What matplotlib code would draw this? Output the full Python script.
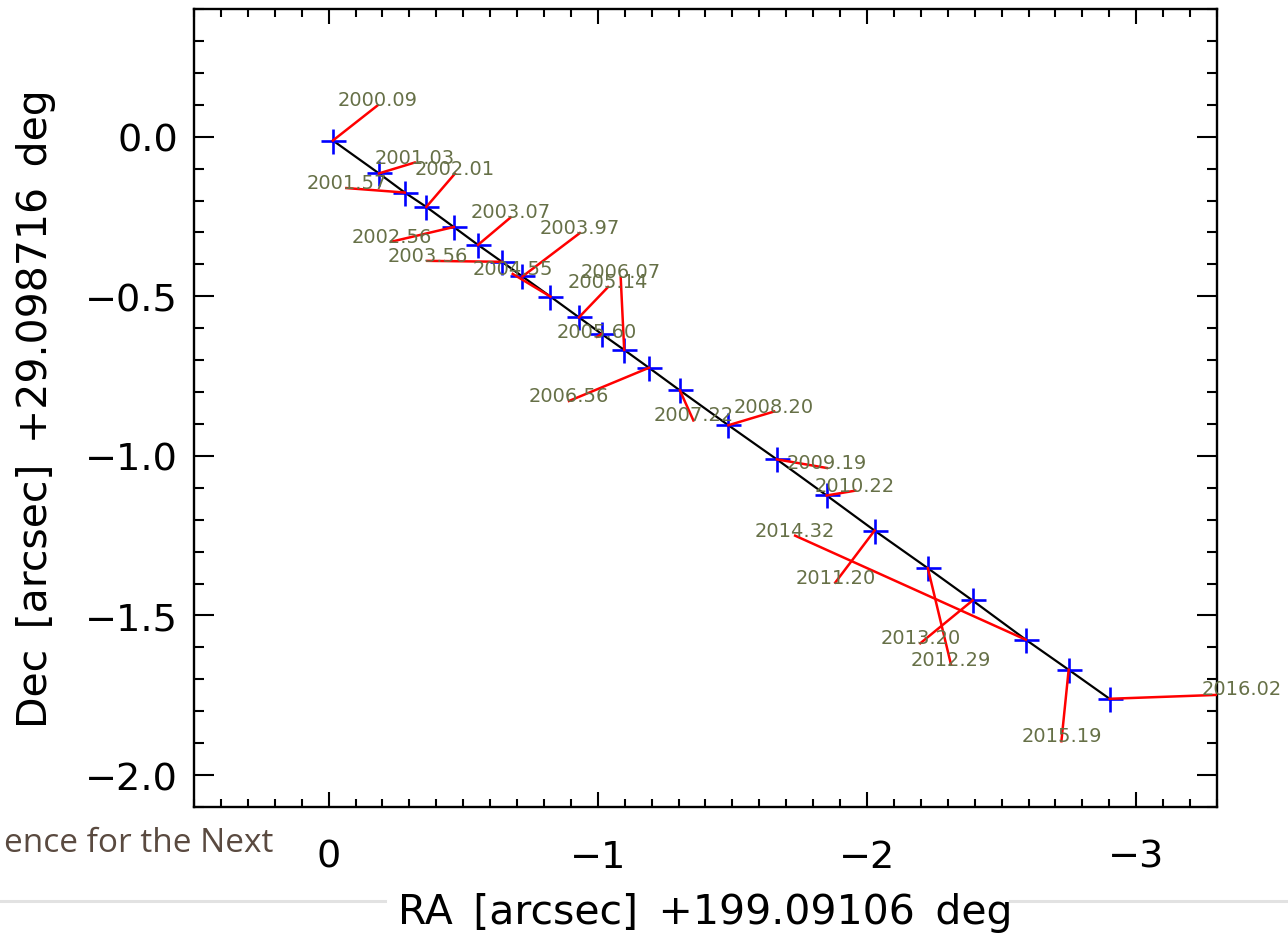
import numpy as np
import matplotlib.pyplot as plt
from matplotlib.lines import Line2D

# epochs and positions (arcsec offsets)
epochs = ["2000.09", "2001.03", "2001.57", "2002.01", "2002.56", "2003.07",
          "2003.56", "2003.97", "2004.55", "2005.14", "2005.60", "2006.07",
          "2006.56", "2007.22", "2008.20", "2009.19", "2010.22", "2011.20",
          "2012.29", "2013.20", "2014.32", "2015.19", "2016.02"]

# model positions (blue crosses)
ra_model = [-0.016, -0.187, -0.283, -0.363, -0.465, -0.555, -0.644, -0.720,
            -0.824, -0.930, -1.014, -1.098, -1.190, -1.305, -1.485, -1.665,
            -1.850, -2.028, -2.226, -2.392, -2.590, -2.749, -2.901]
dec_model = [-0.012, -0.115, -0.175, -0.220, -0.283, -0.339, -0.392, -0.438,
             -0.501, -0.566, -0.618, -0.668, -0.724, -0.795, -0.904, -1.011,
             -1.124, -1.234, -1.352, -1.453, -1.576, -1.670, -1.761]

# measured positions (ends of red lines)
ra_obs = [-0.182, -0.320, -0.066, -0.469, -0.233, -0.676, -0.367, -0.933,
          -0.684, -1.038, -0.997, -1.085, -0.893, -1.355, -1.655, -1.851,
          -1.956, -1.882, -2.312, -2.198, -1.733, -2.722, -3.392]
dec_obs = [0.098, -0.081, -0.161, -0.116, -0.329, -0.253, -0.389, -0.302,
           -0.430, -0.471, -0.627, -0.441, -0.828, -0.889, -0.861, -1.038,
           -1.109, -1.397, -1.654, -1.587, -1.250, -1.894, -1.746]

xlabel = "RA\u2002[arcsec]\u2002+199.09106\u2002deg"
ylabel = "Dec\u2002[arcsec]\u2002+29.098716\u2002deg"

fig = plt.figure(figsize=(12.88, 9.37), dpi=100)
ax = fig.add_axes([194/1288, 1-808/937, 1023/1288, 798/937])

ax.plot(ra_model, dec_model, "-", color="black", lw=1.6, zorder=2)
ax.plot(ra_model, dec_model, "+", color="blue", ms=18, mew=1.9, zorder=3)
for i in range(len(epochs)):
    ax.plot([ra_model[i], ra_obs[i]], [dec_model[i], dec_obs[i]], "-",
            color="red", lw=1.8, zorder=4)
    ax.text(ra_obs[i], dec_obs[i], epochs[i], ha="center", va="baseline",
            fontsize=14, color="#667047", clip_on=False, zorder=5)

ax.set_xlim(0.5, -3.3)
ax.set_ylim(-2.1, 0.4)
ax.set_xticks([0, -1, -2, -3])
ax.set_xticklabels(["0", "\u22121", "\u22122", "\u22123"])
ax.set_xticks(np.arange(0.5, -3.31, -0.1), minor=True)
ax.set_yticks([0.0, -0.5, -1.0, -1.5, -2.0])
ax.set_yticklabels(["0.0", "\u22120.5", "\u22121.0", "\u22121.5", "\u22122.0"])
ax.set_yticks(np.arange(0.4, -2.11, -0.1), minor=True)

for s in ax.spines.values():
    s.set_linewidth(1.7)
ax.tick_params(axis="both", which="both", direction="in", top=True, right=True,
               width=1.5, labelsize=27.5)
ax.tick_params(axis="x", which="major", length=11, pad=23)
ax.tick_params(axis="x", which="minor", length=5.5)
ax.tick_params(axis="y", which="major", length=14.5, pad=11.5)
ax.tick_params(axis="y", which="minor", length=7.2)

ax.set_xlabel(xlabel, fontsize=29.5, va="baseline")
ax.xaxis.set_label_coords(0.5, (808-924)/798)
ax.set_ylabel(ylabel, fontsize=29.5, va="baseline")
ax.yaxis.set_label_coords((47-194)/1023, 0.5)

# bits of the page behind the chart
fig.text(273/1288, 1-851.7/937, "ence for the Next", ha="right", va="baseline",
         fontsize=24, family="Open Sans", color="#5a4a40")
fig.add_artist(Line2D([0, 385/1288], [1-902/937]*2, color="#e2e2e2", lw=2.2))
fig.add_artist(Line2D([1010/1288, 1], [1-902/937]*2, color="#e2e2e2", lw=2.2))

fig.savefig("out.png", dpi=100)
